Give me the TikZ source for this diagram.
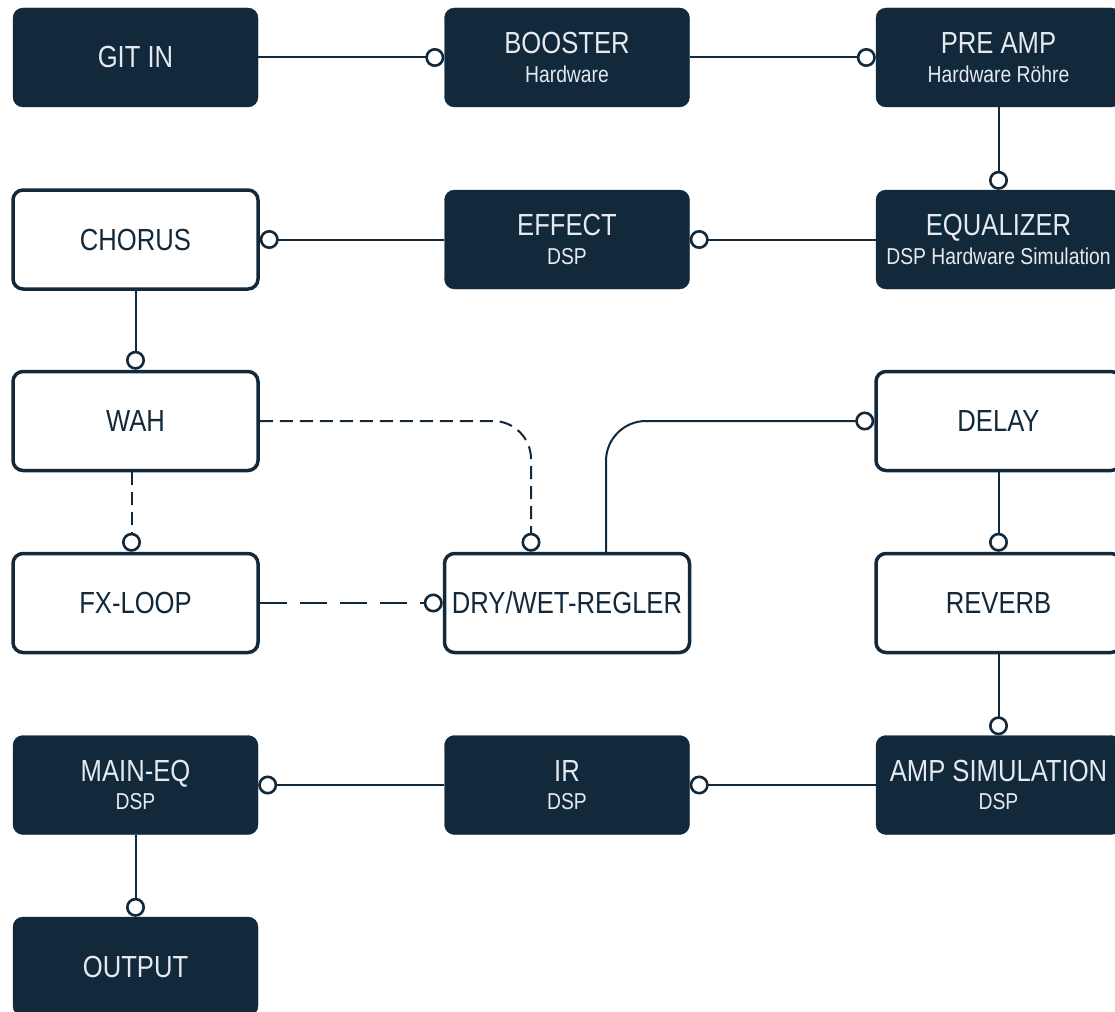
\documentclass[tikz,border=0pt]{standalone}
\usepackage{fontspec}
\setmainfont{Liberation Sans}[FakeStretch=0.84]
\usetikzlibrary{arrows.meta}
\definecolor{navy}{HTML}{12283B}
\definecolor{pale}{HTML}{E4EAEF}
\newcommand{\BoxW}{245pt}
\newcommand{\BoxH}{99pt}
\newcommand{\ColA}{135.5}
\newcommand{\ColB}{567}
\newcommand{\ColC}{998.5}
\newcommand{\TitleFont}{\fontsize{30.5}{28.5}\selectfont}
\newcommand{\SubFont}{\fontsize{23}{28.5}\selectfont}
\tikzset{
    box/.style    = {rounded corners=10pt, minimum width=\BoxW, minimum height=\BoxH,
            align=center, inner sep=0pt, font=\TitleFont},
    hwbox/.style  = {box, fill=navy, draw=navy, text=pale},
    fxbox/.style  = {box, fill=white, draw=navy, line width=3.5pt, text=navy},
    conn/.style   = {draw=navy, line width=2pt,
            -{Circle[open, length=19pt, width=19pt, line width=2.6pt]}},
    dashconn/.style = {conn, dash pattern=on 13pt off 7pt},
    longdash/.style = {conn, dash pattern=on 27pt off 13pt},
}
\begin{document}
\begin{tikzpicture}[x=1pt, y=-1pt]
    \clip (0,0) rectangle (1115,1011);
    % signal chain, row by row
    \node[hwbox] (gitin)     at (\ColA,57.5)  {GIT IN};
    \node[hwbox] (booster)   at (\ColB,57.5)  {BOOSTER\\{\SubFont Hardware}};
    \node[hwbox] (preamp)    at (\ColC,57.5)  {PRE AMP\\{\SubFont Hardware Röhre}};
    \node[hwbox] (equalizer) at (\ColC,239.5) {EQUALIZER\\{\SubFont DSP Hardware Simulation}};
    \node[hwbox] (effect)    at (\ColB,239.5) {EFFECT\\{\SubFont DSP}};
    \node[fxbox] (chorus)    at (\ColA,239.5) {CHORUS};
    \node[fxbox] (wah)       at (\ColA,421)   {WAH};
    \node[fxbox] (fxloop)    at (\ColA,603)   {FX-LOOP};
    \node[fxbox] (drywet)    at (\ColB,603)   {DRY/WET-REGLER};
    \node[fxbox] (delay)     at (\ColC,421)   {DELAY};
    \node[fxbox] (reverb)    at (\ColC,603)   {REVERB};
    \node[hwbox] (ampsim)    at (\ColC,785)   {AMP SIMULATION\\{\SubFont DSP}};
    \node[hwbox] (ir)        at (\ColB,785)   {IR\\{\SubFont DSP}};
    \node[hwbox] (maineq)    at (\ColA,785)   {MAIN-EQ\\{\SubFont DSP}};
    \node[hwbox] (output)    at (\ColA,966.5) {OUTPUT};

    % connections
    \draw[conn] (gitin) -- (booster);
    \draw[conn] (booster) -- (preamp);
    \draw[conn] (preamp) -- (equalizer);
    \draw[conn] (equalizer) -- (effect);
    \draw[conn] (effect) -- (chorus);
    \draw[conn] (chorus) -- (wah);
    \draw[dashconn] ([xshift=-4pt]wah.south) -- ([xshift=-4pt]fxloop.north);
    \draw[dashconn, rounded corners=38pt] (wah.east) -| ([xshift=-36pt]drywet.north);
    \draw[longdash] (fxloop) -- (drywet);
    \draw[conn, rounded corners=40pt] ([xshift=39pt]drywet.north) |- (delay.west);
    \draw[conn] (delay) -- (reverb);
    \draw[conn] (reverb) -- (ampsim);
    \draw[conn] (ampsim) -- (ir);
    \draw[conn] (ir) -- (maineq);
    \draw[conn] (maineq) -- (output);
\end{tikzpicture}
\end{document}
